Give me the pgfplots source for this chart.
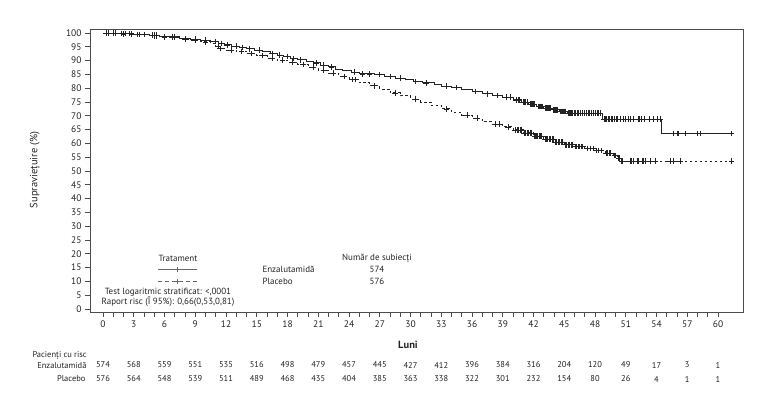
\documentclass[border=0pt]{standalone}
\usepackage{pgfplots}
\pgfplotsset{compat=1.18}
\usepackage{fontspec}
\setmainfont{PT Sans}
\definecolor{ink}{RGB}{35,35,35}
\begin{document}
\begin{tikzpicture}[x=1bp,y=1bp]
\path[use as bounding box] (0,0) rectangle (770,404);
\begin{axis}[at={(90bp,92bp)}, anchor=south west, scale only axis,
  width=653bp, height=283bp,
  xmin=-1.27, xmax=62.44, ymin=-1.1, ymax=101.45,
  axis line style={black!70, line width=0.8bp},
  xtick={0,3,...,60}, minor xtick={0,1,...,60},
  ytick={0,5,...,100},
  tick align=outside, tick pos=left,
  major tick length=5bp, minor tick length=5bp,
  every tick/.style={black!70, line width=0.6bp},
  tick label style={font=\fontsize{9.5}{10}\selectfont, text=ink},
  /pgf/number format/assume math mode=true,
  clip=false]
% Enzalutamida (solid)
\addplot[const plot, line width=0.9bp, ink] coordinates {
(0,100) (1.5,99.8) (3,99.5) (4.5,99.2) (5.5,98.9) (6.5,98.6) (7.5,98.2) (8.5,97.8)
(9.5,97.4) (10.5,96.9) (11.3,96.2) (11.8,95.7) (12.5,95.3) (13.3,94.8) (14,94.3)
(14.8,93.8) (15.6,93.4) (16.3,92.6) (17,92.0) (17.6,91.5) (18.3,90.8) (19,90.3)
(19.8,89.7) (20.5,89.2) (21.2,88.4) (22,87.7) (22.7,86.9) (23.4,86.3) (24.2,85.8)
(25,85.2) (26.5,84.9) (27.5,84.3) (28.5,83.6) (29.5,83.0) (30.3,82.4) (31.2,81.9)
(32.3,81.3) (33,80.7) (34,80.3) (35,79.6) (36,78.8) (37,78.0) (38,77.4) (39,76.8)
(40,75.8) (40.8,75.0) (41.5,74.2) (42.3,73.4) (43,72.8) (43.8,72.2) (44.5,71.6)
(45.3,71.0) (48.7,68.8) (54.5,63.6) (61.3,63.6)};
\addplot[only marks, mark=+, mark size=2.8bp, ink, mark options={line width=0.55bp}] coordinates {
(0.3,100) (1,100) (1.8,99.8) (2.2,99.8) (2.6,99.8) (3.3,99.5) (4.8,99.2) (5,99.2)
(5.2,99.2) (6.8,98.6) (7,98.6) (9,97.8) (10,97.4) (11,96.9) (11.5,96.2) (12.1,95.7)
(13,95.3) (13.6,94.8) (14.3,94.3) (15.2,93.8) (16.5,92.6) (17.2,92.0) (18,91.5)
(18.6,90.8) (19.2,90.3) (20.8,89.2) (21.5,88.4) (22.3,87.7) (24.5,85.8) (25.3,85.2)
(26,85.2) (27,84.9) (28,84.3) (29,83.6) (30.5,82.4) (31.5,81.9) (33.5,80.7)
(34.5,80.3) (36.3,78.8) (37.5,78.0) (38.5,77.4) (39.3,76.8) (39.7,76.8) (40.3,75.8)
(40.5,75.8) (40.6,75.8) (41,75.0) (41.1,75.0) (41.2,75.0) (41.35,75.0) (41.7,74.2)
(41.8,74.2) (41.9,74.2) (42.0,74.2) (42.1,74.2) (42.5,73.4) (42.6,73.4) (42.7,73.4)
(42.8,73.4) (42.9,73.4) (43.1,72.8) (43.2,72.8) (43.3,72.8) (43.4,72.8) (43.5,72.8)
(43.6,72.8) (43.9,72.2) (44,72.2) (44.1,72.2) (44.2,72.2) (44.3,72.2) (44.6,71.6)
(44.7,71.6) (44.8,71.6) (44.9,71.6) (45.0,71.6) (45.1,71.6) (45.4,71.0) (45.5,71.0)
(45.6,71.0) (45.7,71.0) (45.8,71.0) (46.0,71.0) (46.1,71.0) (46.3,71.0) (46.4,71.0)
(46.6,71.0) (46.8,71.0) (47,71.0) (47.1,71.0) (47.3,71.0) (47.4,71.0) (47.6,71.0)
(47.8,71.0) (48,71.0) (48.2,71.0) (48.3,71.0) (48.5,71.0) (48.9,68.8) (49,68.8)
(49.1,68.8) (49.3,68.8) (49.4,68.8) (49.6,68.8) (49.7,68.8) (49.9,68.8) (50.1,68.8)
(50.2,68.8) (50.5,68.8) (50.8,68.8) (51,68.8) (51.2,68.8) (51.4,68.8) (51.7,68.8)
(52.2,68.8) (52.3,68.8) (52.5,68.8) (52.8,68.8) (53.3,68.8) (53.7,68.8) (54.1,68.8)
(54.4,68.8) (55.6,63.6) (56,63.6) (56.1,63.6) (56.8,63.6) (58,63.6) (58.3,63.6)
(61.3,63.6)};
% Placebo (dashed)
\addplot[const plot, line width=0.9bp, ink, dash pattern=on 2.5bp off 2.5bp] coordinates {
(0,100) (1.5,99.7) (3,99.4) (4.5,99.0) (5.5,98.6) (6.5,98.3) (7.5,97.8) (8.5,97.3)
(9.5,96.8) (10.5,96.2) (11,95.3) (11.3,94.4) (12,93.8) (13,93.3) (14,92.5) (15,91.8)
(16,90.9) (17,90.2) (18,89.5) (19,88.6) (20,87.6) (21,86.6) (22,85.5) (23,84.3)
(24,83.2) (25,82.0) (26,80.9) (27,79.7) (28,78.3) (29,77.2) (30,76.0) (31,75.0)
(32,73.8) (33,72.5) (34,71.3) (35,70.3) (36,69.1) (37,67.9) (38,67.0) (39,66.0)
(40,64.9) (41,63.8) (42,62.6) (43,61.5) (44,60.4) (45,59.5) (46,58.8) (47,58.2)
(48,57.4) (49,56.5) (49.8,55.6) (50.2,54.6) (50.6,53.6) (61.3,53.6)};
\addplot[only marks, mark=+, mark size=2.8bp, ink, mark options={line width=0.55bp, solid}] coordinates {
(0.5,100) (1.2,100) (2,99.7) (2.8,99.7) (3.5,99.4) (4,99.4) (5,99.0) (5.2,99.0)
(6,98.6) (7,98.3) (8,97.8) (9,97.3) (10,96.8) (11.2,95.3) (11.4,94.4) (12.5,93.8)
(13.5,93.3) (14.5,92.5) (15.5,91.8) (16.5,90.9) (17.5,90.2) (18.5,89.5) (19.5,88.6)
(20.5,87.6) (21.5,86.6) (22.5,85.5) (23.5,84.3) (24.3,83.2) (24.6,83.2) (26.5,80.9)
(28.5,78.3) (30.5,76.0) (33.5,72.5) (35.5,70.3) (36.5,69.1) (38.3,67.0) (38.7,67.0)
(39.5,66.0) (40.2,64.9) (40.4,64.9) (40.5,64.9) (40.7,64.9) (40.8,64.9) (41.1,63.8)
(41.2,63.8) (41.4,63.8) (41.5,63.8) (41.7,63.8) (41.8,63.8) (42.1,62.6) (42.2,62.6)
(42.3,62.6) (42.4,62.6) (42.6,62.6) (42.7,62.6) (42.8,62.6) (43.1,61.5) (43.2,61.5)
(43.3,61.5) (43.5,61.5) (43.6,61.5) (43.8,61.5) (43.9,61.5) (44.1,60.4) (44.2,60.4)
(44.4,60.4) (44.5,60.4) (44.7,60.4) (44.8,60.4) (45.1,59.5) (45.2,59.5) (45.4,59.5)
(45.5,59.5) (45.7,59.5) (45.8,59.5) (46.1,58.8) (46.2,58.8) (46.4,58.8) (46.5,58.8)
(46.7,58.8) (46.8,58.8) (47.2,58.2) (47.5,58.2) (47.8,58.2) (48.1,57.4) (48.3,57.4)
(48.6,57.4) (49.1,56.5) (49.2,56.5) (49.4,56.5) (49.5,56.5) (49.9,55.6) (50.0,55.6)
(50.3,54.6) (50.4,54.6) (50.6,53.6) (50.7,53.6) (51.4,53.6) (51.5,53.6) (51.7,53.6)
(52.1,53.6) (52.2,53.6) (52.6,53.6) (52.7,53.6) (52.9,53.6) (53.4,53.6) (53.9,53.6)
(55.3,53.6) (55.6,53.6) (56.3,53.6) (61.3,53.6)};
\end{axis}
% axis labels
\node[rotate=90, font=\fontsize{10.5}{12}\selectfont, text=ink] at (35,234) {Supraviețuire (\%)};
\node[font=\fontsize{10.5}{12}\selectfont\bfseries, text=ink] at (408,59) {Luni};
% legend block
\begin{scope}[font=\fontsize{9}{10}\selectfont, text=ink]
\node at (178,146) {Tratament};
\draw[black!60, line width=0.6bp] (158,135) -- (197,135);
\draw[black!60, line width=0.5bp] (177,132.5) -- (177,137.5) (174.5,135) -- (179.5,135);
\draw[black!60, line width=0.6bp, dash pattern=on 4bp off 3bp] (158,123) -- (197,123);
\draw[black!60, line width=0.5bp] (177,120.5) -- (177,125.5) (174.5,123) -- (179.5,123);
\node at (168,112) {Test logaritmic stratificat: <,0001};
\node at (168,102) {Raport risc (Î 95\%): 0,66(0,53,0,81)};
\node[anchor=west] at (259,135) {Enzalutamidă};
\node[anchor=west] at (259,123) {Placebo};
\node at (377,146) {Număr de subiecți};
\node at (377,135) {574};
\node at (377,123) {576};
\end{scope}
% risk table
\begin{scope}[font=\fontsize{8.5}{9}\selectfont, text=ink]
\node[anchor=west] at (29,48) {Pacienți cu risc};
\node[anchor=east] at (90,39) {Enzalutamidă};
\node[anchor=east] at (89,25) {Placebo};
\foreach \m/\a/\b in {0/574/576,3/568/564,6/559/548,9/551/539,12/535/511,15/516/489,18/498/468,21/479/435,24/457/404,27/445/385,30/427/363,33/412/338,36/396/322,39/384/301,42/316/232,45/204/154,48/120/80,51/49/26,54/17/4,57/3/1,60/1/1}{
  \node at ({103+10.25*\m},39) {\a};
  \node at ({103+10.25*\m},25) {\b};
}
\end{scope}
\end{tikzpicture}
\end{document}
